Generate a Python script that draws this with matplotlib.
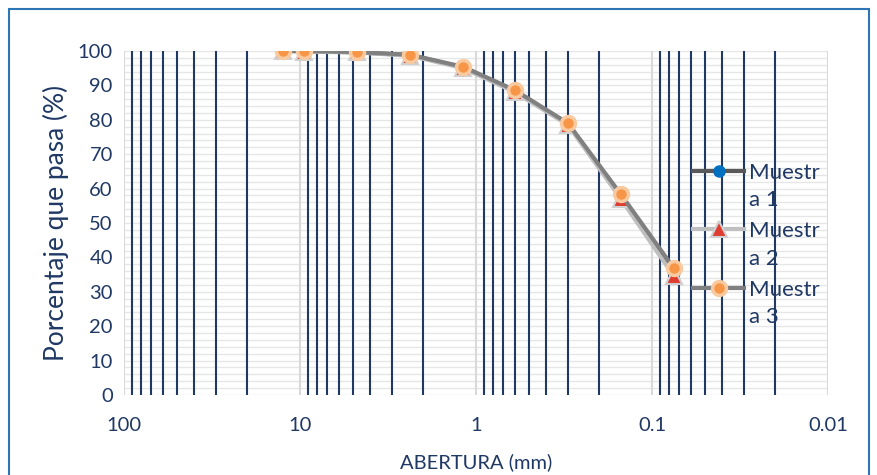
import matplotlib.pyplot as plt
from matplotlib.patches import Rectangle
from matplotlib.ticker import LogLocator, MultipleLocator, FixedFormatter, FixedLocator

# Abertura de tamices (mm) y porcentaje que pasa
abertura = [12.5, 9.5, 4.75, 2.36, 1.18, 0.6, 0.3, 0.15, 0.075]
muestra_1 = [100, 100, 99.6, 98.8, 95.2, 88.3, 78.8, 57.8, 35.8]
muestra_2 = [100, 99.8, 99.6, 98.6, 95.0, 88.0, 78.5, 57.0, 34.5]
muestra_3 = [100, 100, 99.7, 98.9, 95.4, 88.6, 79.0, 58.3, 36.8]

x_ticks = [100, 10, 1, 0.1, 0.01]
x_labels = ["100", "10", "1", "0.1", "0.01"]

navy = "#1f3864"
font = ["Lato", "DejaVu Sans"]
plt.rcParams["font.family"] = font

fig = plt.figure(figsize=(8.78, 4.75), dpi=100)
ax = fig.add_axes([0.1412, 0.1684, 0.8018, 0.7242])

ax.plot(abertura, muestra_1, color="#595959", lw=3, marker="o", ms=8,
        mfc="#0070c0", mec="#0070c0", label="Muestr\na 1", zorder=3)
ax.plot(abertura, muestra_2, color="#bfbfbf", lw=3, marker="^", ms=11,
        mfc="#e03c31", mec="#d0d0d0", mew=1.5, label="Muestr\na 2", zorder=4)
ax.plot(abertura, muestra_3, color="#808080", lw=3, marker="o", ms=10,
        mfc="#f79646", mec="#f9c9a0", mew=2.5, label="Muestr\na 3", zorder=5)

ax.set_xscale("log")
ax.set_xlim(100, 0.01)
ax.set_ylim(0, 100)

ax.xaxis.set_major_locator(FixedLocator(x_ticks))
ax.xaxis.set_major_formatter(FixedFormatter(x_labels))
ax.xaxis.set_minor_locator(LogLocator(base=10, subs=range(2, 10)))
ax.yaxis.set_major_locator(MultipleLocator(10))
ax.yaxis.set_minor_locator(MultipleLocator(2))

ax.grid(which="major", axis="x", color="#d9d9d9", lw=1.5)
ax.grid(which="minor", axis="x", color=navy, lw=1.5)
ax.grid(which="both", axis="y", color="#e6e6e6", lw=1)
ax.set_axisbelow(True)
ax.yaxis.set_zorder(0.3)

for s in ax.spines.values():
    s.set_visible(False)
ax.tick_params(which="both", length=0, labelcolor=navy, labelsize=14.5)
ax.tick_params(axis="x", pad=16)
ax.tick_params(axis="y", pad=8)

ax.set_xlabel("ABERTURA (mm)", color=navy, fontsize=14.5, labelpad=14)
ax.set_ylabel("Porcentaje que pasa (%)", color=navy, fontsize=19, labelpad=6)

leg = ax.legend(loc="upper left", bbox_to_anchor=(0.796, 0.7), frameon=False,
                fontsize=16, handlelength=2.3, handletextpad=0.2,
                labelspacing=0.5, borderaxespad=0)
for t in leg.get_texts():
    t.set_color(navy)
    t.set_linespacing(1.45)
# alinear cada linea de leyenda con la primera linea del texto
for row in leg._legend_handle_box.get_children()[0].get_children():
    row.align = "top"

# marco del grafico
fig.patches.append(Rectangle((9 / 878, -0.1), 860 / 878, 1.1 - 9 / 475,
                             transform=fig.transFigure, fill=False,
                             edgecolor="#2e75b6", lw=1.5))

fig.savefig("out.png", dpi=100)
